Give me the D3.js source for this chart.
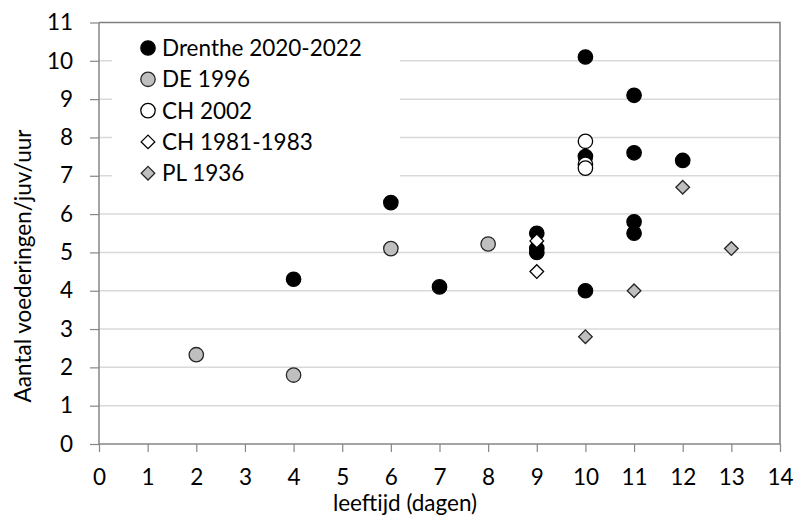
<!DOCTYPE html>
<meta charset="utf-8">
<style>
body { margin: 0; background: #fff; }
text { font-family: Lato, "Open Sans", sans-serif; fill: #000; }
.grid line { stroke: #d9d9d9; stroke-width: 1.5; }
</style>
<body>
<script src="https://cdnjs.cloudflare.com/ajax/libs/d3/7.8.5/d3.min.js"></script>
<script>

var width = 795;
var height = 517;

// data
var xTicks = [0, 1, 2, 3, 4, 5, 6, 7, 8, 9, 10, 11, 12, 13, 14];
var yTicks = [0, 1, 2, 3, 4, 5, 6, 7, 8, 9, 10, 11];

var drentheX = [4, 6, 7, 9, 9, 9, 10, 10, 10, 11, 11, 11, 11, 12];
var drentheY = [4.3, 6.3, 4.1, 5.5, 5.1, 5.0, 10.1, 7.5, 4.0, 9.1, 7.6, 5.8, 5.5, 7.4];

var de1996X = [2, 4, 6, 8];
var de1996Y = [2.33, 1.8, 5.1, 5.22];

var ch2002X = [10, 10, 10];
var ch2002Y = [7.9, 7.3, 7.2];

var ch1981X = [9, 9];
var ch1981Y = [5.3, 4.5];

var pl1936X = [10, 11, 12, 13];
var pl1936Y = [2.8, 4.0, 6.7, 5.1];

var series = [
  {name: "Drenthe 2020-2022", xs: drentheX, ys: drentheY, shape: "circle", fill: "#000", stroke: "#000"},
  {name: "DE 1996", xs: de1996X, ys: de1996Y, shape: "circle", fill: "#bfbfbf", stroke: "#262626"},
  {name: "CH 2002", xs: ch2002X, ys: ch2002Y, shape: "circle", fill: "#fff", stroke: "#000"},
  {name: "CH 1981-1983", xs: ch1981X, ys: ch1981Y, shape: "diamond", fill: "#fff", stroke: "#000"},
  {name: "PL 1936", xs: pl1936X, ys: pl1936Y, shape: "diamond", fill: "#bfbfbf", stroke: "#262626"}
];

var pLeft = 99, pRight = 780, pTop = 22.5, pBottom = 444;
var fontSize = "22.5px";

var x = d3.scaleLinear().domain([0, 14]).range([pLeft, pRight]);
var y = d3.scaleLinear().domain([0, 11]).range([pBottom, pTop]);

var svg = d3.select("body").append("svg")
    .attr("width", width)
    .attr("height", height);

// gridlines
svg.append("g").attr("class", "grid")
  .selectAll("line")
  .data(yTicks.slice(1, -1))
  .enter().append("line")
  .attr("x1", pLeft).attr("x2", pRight)
  .attr("y1", function(d) { return y(d); })
  .attr("y2", function(d) { return y(d); });

// plot border top/right
svg.append("path")
  .attr("d", "M" + pLeft + "," + pTop + "H" + pRight + "V" + pBottom)
  .attr("fill", "none").attr("stroke", "#7f7f7f").attr("stroke-width", 1.5);

// y axis
var yAxis = svg.append("g")
  .attr("transform", "translate(" + pLeft + ",0)")
  .call(d3.axisLeft(y).tickValues(yTicks).tickSize(9).tickPadding(17));
// x axis
var xAxis = svg.append("g")
  .attr("transform", "translate(0," + pBottom + ")")
  .call(d3.axisBottom(x).tickValues(xTicks).tickSize(8).tickPadding(17));

[yAxis, xAxis].forEach(function(ax) {
  ax.select(".domain").attr("stroke", "#868686").attr("stroke-width", 1.5);
  ax.selectAll(".tick line").attr("stroke", "#868686").attr("stroke-width", 1.2);
  ax.selectAll(".tick text")
    .style("font-family", "Lato, 'Open Sans', sans-serif")
    .style("font-size", fontSize)
    .attr("fill", "#000");
});
yAxis.select(".domain").attr("d", "M0," + pBottom + "V" + pTop);
xAxis.select(".domain").attr("d", "M" + pLeft + ",0H" + pRight);

// axis titles
svg.append("text")
  .attr("x", 405).attr("y", 511)
  .attr("text-anchor", "middle")
  .style("font-size", fontSize)
  .text("leeftijd (dagen)");

svg.append("text")
  .attr("transform", "translate(31,266) rotate(-90)")
  .attr("text-anchor", "middle")
  .style("font-size", fontSize)
  .text("Aantal voederingen/juv/uur");

// legend background hides grid lines
svg.append("rect")
  .attr("x", 112).attr("y", 30).attr("width", 288).attr("height", 162)
  .attr("fill", "#fff");

function drawMarker(g, s, cx, cy) {
  if (s.shape === "circle") {
    g.append("circle").attr("cx", cx).attr("cy", cy).attr("r", 7.2)
      .attr("fill", s.fill).attr("stroke", s.stroke).attr("stroke-width", 1.3);
  } else {
    g.append("path")
      .attr("d", d3.symbol().type(d3.symbolDiamond2).size(118)())
      .attr("transform", "translate(" + cx + "," + cy + ")")
      .attr("fill", s.fill).attr("stroke", s.stroke).attr("stroke-width", 1.3);
  }
}

// points
var pts = svg.append("g");
series.forEach(function(s) {
  for (var i = 0; i < s.xs.length; i++) {
    drawMarker(pts, s, x(s.xs[i]), y(s.ys[i]));
  }
});

// legend
var lg = svg.append("g");
series.forEach(function(s, i) {
  var ly = 48 + i * 31.3;
  drawMarker(lg, s, 148, ly);
  lg.append("text")
    .attr("x", 162).attr("y", ly + 8)
    .style("font-size", fontSize)
    .text(s.name);
});

</script>
</body>
